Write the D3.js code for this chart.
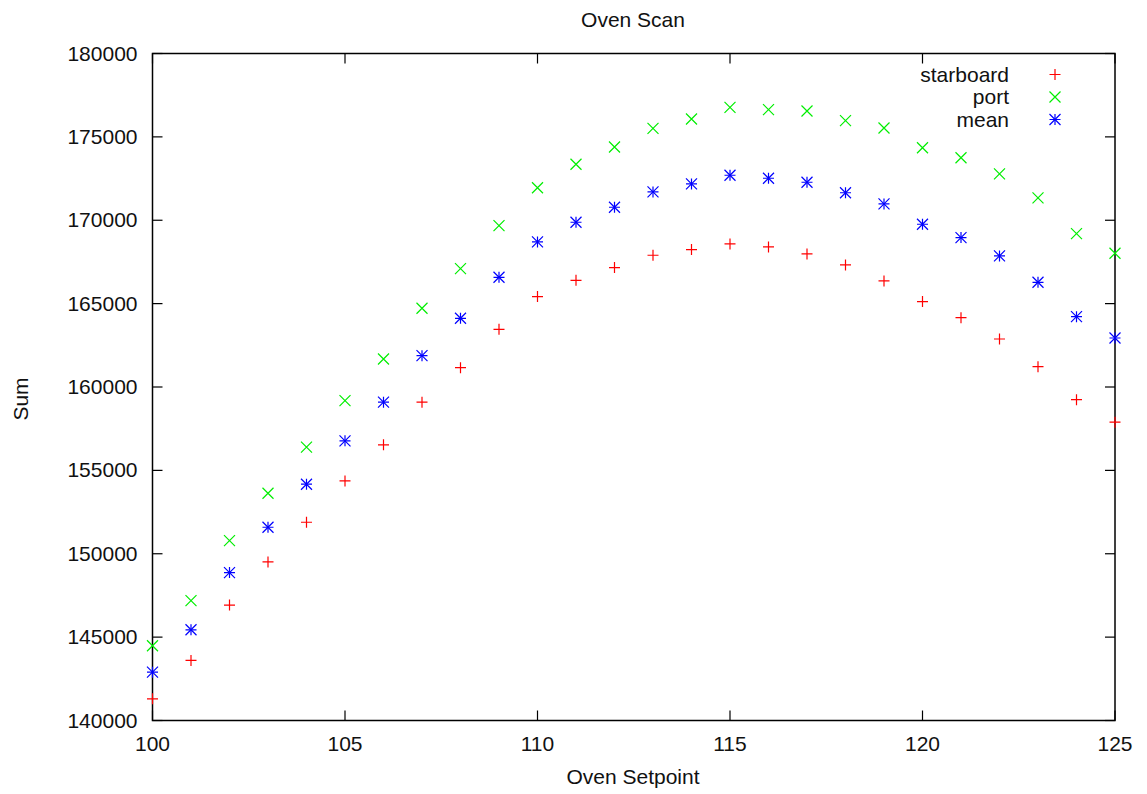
<!DOCTYPE html>
<html><head><meta charset="utf-8">
<script src="https://cdn.jsdelivr.net/npm/d3@7"></script>
<style>body{margin:0;background:#fff;} text{font-family:"Liberation Sans",Arial,sans-serif;fill:#111;}</style>
</head><body>
<svg id="c" width="1147" height="794"></svg>
<script>
const setpoints = [100,101,102,103,104,105,106,107,108,109,110,111,112,113,114,115,116,117,118,119,120,121,122,123,124,125];
const starboard = [141300,143600,146920,149510,151890,154370,156530,159090,161160,163460,165420,166400,167160,167900,168240,168580,168400,167980,167320,166360,165120,164160,162880,161220,159240,157890];
const port = [144480,147190,150790,153630,156390,159180,161680,164720,167100,169680,171950,173360,174390,175510,176070,176770,176630,176550,175970,175530,174350,173750,172780,171340,169200,168020];
const mean = [142900,145440,148870,151590,154170,156770,159090,161880,164120,166580,168700,169880,170780,171700,172180,172700,172520,172280,171650,170980,169760,168960,167860,166280,164220,162940];
const xTicks = [100,105,110,115,120,125];
const yTicks = [140000,145000,150000,155000,160000,165000,170000,175000,180000];

const svg = d3.select("#c");
const L=152.5, R=1115, T=53.5, B=720.5;
const x = d3.scaleLinear().domain([100,125]).range([L,R]);
const y = d3.scaleLinear().domain([140000,180000]).range([B,T]);
const fs = 21;

const tl = 10;
const g = svg.append("g").attr("stroke","#000").attr("stroke-width",1.2);
xTicks.forEach(t=>{
  g.append("line").attr("x1",x(t)).attr("x2",x(t)).attr("y1",B).attr("y2",B-tl);
  g.append("line").attr("x1",x(t)).attr("x2",x(t)).attr("y1",T).attr("y2",T+tl);
});
yTicks.forEach(t=>{
  g.append("line").attr("x1",L).attr("x2",L+tl).attr("y1",y(t)).attr("y2",y(t));
  g.append("line").attr("x1",R).attr("x2",R-tl).attr("y1",y(t)).attr("y2",y(t));
});
svg.append("rect").attr("x",L).attr("y",T).attr("width",R-L).attr("height",B-T)
  .attr("fill","none").attr("stroke","#000").attr("stroke-width",1.5);

svg.selectAll(".xt").data(xTicks).enter().append("text")
  .attr("x",d=>x(d)).attr("y",B+30).attr("text-anchor","middle").attr("font-size",fs).text(d=>d);
svg.selectAll(".yt").data(yTicks).enter().append("text")
  .attr("x",L-15).attr("y",d=>y(d)+7).attr("text-anchor","end").attr("font-size",fs).text(d=>d);

svg.append("text").attr("x",633).attr("y",27).attr("text-anchor","middle").attr("font-size",fs).text("Oven Scan");
svg.append("text").attr("x",633).attr("y",784).attr("text-anchor","middle").attr("font-size",fs).text("Oven Setpoint");
svg.append("text").attr("transform","translate(28,399) rotate(-90)").attr("text-anchor","middle").attr("font-size",fs).text("Sum");

const s = 5.5;
function plus(sel,cx,cy,col){
  sel.append("path").attr("d",`M${cx-s},${cy}H${cx+s}M${cx},${cy-s}V${cy+s}`).attr("stroke",col).attr("stroke-width",1.2).attr("fill","none");
}
function cross(sel,cx,cy,col){
  sel.append("path").attr("d",`M${cx-s},${cy-s}L${cx+s},${cy+s}M${cx-s},${cy+s}L${cx+s},${cy-s}`).attr("stroke",col).attr("stroke-width",1.2).attr("fill","none");
}
function star(sel,cx,cy,col){ plus(sel,cx,cy,col); cross(sel,cx,cy,col); }

const series = [
  {name:"starboard", vals:starboard, col:"#ff0000", fn:plus},
  {name:"port", vals:port, col:"#00ee00", fn:cross},
  {name:"mean", vals:mean, col:"#0000ff", fn:star}
];
const pg = svg.append("g");
series.forEach((sr,i)=>{
  setpoints.forEach((p,j)=>sr.fn(pg,x(p),y(sr.vals[j]),sr.col));
  const ly = 74.5 + i*22.5;
  svg.append("text").attr("x",1009).attr("y",ly+7).attr("text-anchor","end").attr("font-size",fs).text(sr.name);
  sr.fn(svg,1055,ly,sr.col);
});
</script>
</body></html>
